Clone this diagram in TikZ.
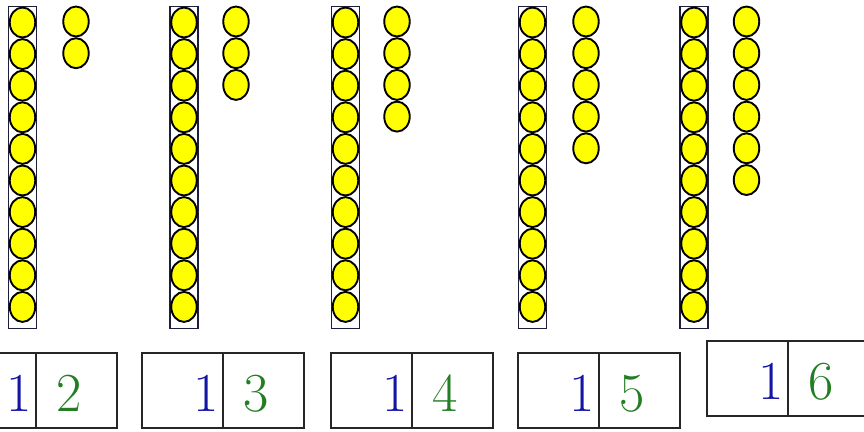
\documentclass[tikz,border=0pt]{standalone}
\usetikzlibrary{shapes.geometric,positioning}
\definecolor{BeadYellow}{RGB}{255, 255, 0}
\definecolor{RodNavy}{RGB}{30, 30, 60}
\definecolor{TensBlue}{RGB}{20, 20, 165}
\definecolor{OnesGreen}{RGB}{35, 125, 35}

\begin{document}
\begin{tikzpicture}[x=1pt, y=-1pt,
  bead/.style={ellipse, draw=black, line width=1.9pt, fill=BeadYellow,
    minimum width=25.5pt, minimum height=30pt, inner sep=0pt},
  rod/.style={draw=RodNavy, line width=1.3pt, minimum width=28pt,
    minimum height=322pt, inner sep=0pt},
  half/.style={draw=black!85, line width=1.3pt, minimum width=81pt,
    minimum height=75pt, inner sep=0pt},
  digit/.style={inner sep=0pt, font=\fontsize{55}{60}\selectfont}]
  \useasboundingbox (0,0) rectangle (864,431);

  % Ten-bars with loose unit beads
  \foreach \g/\rx/\lx/\n in {1/22.5/76/2, 2/184/236/3, 3/345.5/397/4,
                             4/532.5/586/5, 5/694/746.5/6} {
    \node[rod] (rod\g) at (\rx, 167.5) {};
    \foreach \k in {1,...,10}
      \node[bead] (bead\g-\k) at (\rx, {22.5 + 31.6*(\k-1)}) {};
    \foreach \k in {1,...,\n}
      \node[bead] (loose\g-\k) at (\lx, {21.5 + 31.7*(\k-1)}) {};
  }

  % Number cards
  \foreach \g/\d/\t/\u in {1/36/353/2, 2/223/353/3, 3/412/353/4,
                           4/599/353/5, 5/788/341/6} {
    \node[half] (tens\g) at (\d-40.5, \t+37.5) {};
    \node[half] (ones\g) at (\d+40.5, \t+37.5) {};
    \node[digit, text=TensBlue, anchor=base east] (t\g) at (\d-4, \t+58) {1};
    \node[digit, text=OnesGreen, anchor=base west] (o\g) at (\d+20, \t+58) {\u};
  }
\end{tikzpicture}
\end{document}
